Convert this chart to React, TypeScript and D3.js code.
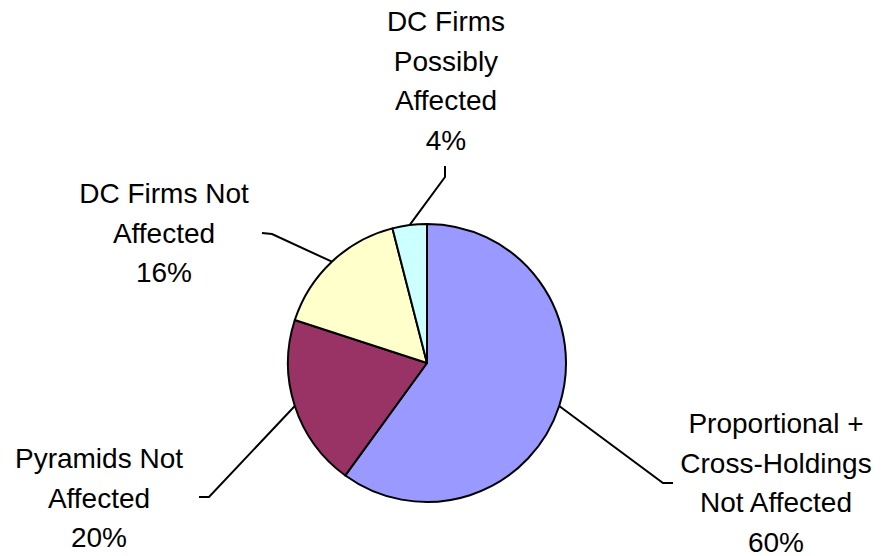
import React, { useEffect, useRef } from 'react';
import * as d3 from 'd3';

// slice order: clockwise from 12 o'clock
const categories = [
  'Proportional + Cross-Holdings Not Affected',
  'Pyramids Not Affected',
  'DC Firms Not Affected',
  'DC Firms Possibly Affected',
];
const shares = [60, 20, 16, 4];
const labelLines = [
  ['Proportional +', 'Cross-Holdings', 'Not Affected', '60%'],
  ['Pyramids Not', 'Affected', '20%'],
  ['DC Firms Not', 'Affected', '16%'],
  ['DC Firms', 'Possibly', 'Affected', '4%'],
];
const colors = ['#9999ff', '#993366', '#ffffcc', '#ccffff'];

// label placement (text centre + first baseline) and leader elbow / end
const labelLayout = [
  { x: 776, y: 433, elbow: [663, 483], end: [673, 483] },
  { x: 99, y: 468, elbow: [209, 497], end: [199, 497] },
  { x: 164, y: 203, elbow: [272, 234], end: [262, 233] },
  { x: 446, y: 31, elbow: [445, 177], end: [445, 166] },
];

const W = 881;
const H = 556;
const cx = 427;
const cy = 363;
const R = 139;
const lineStep = 39.5;

const App: React.FC = () => {
  const svgRef = useRef<SVGSVGElement | null>(null);

  useEffect(() => {
    const svg = d3.select(svgRef.current);
    svg.selectAll('*').remove();

    const data = categories.map((name, i) => ({ name, value: shares[i], i }));
    const pie = d3.pie<any>().value((d) => d.value).sort(null);
    const arcs = pie(data);
    const arc = d3.arc<any>().innerRadius(0).outerRadius(R);

    const g = svg.append('g').attr('transform', `translate(${cx},${cy})`);
    g.selectAll('path')
      .data(arcs)
      .join('path')
      .attr('d', arc)
      .attr('fill', (d: any) => colors[d.data.i])
      .attr('stroke', '#000')
      .attr('stroke-width', 2)
      .attr('stroke-linejoin', 'round');

    // leader lines
    arcs.forEach((a: any, i) => {
      const mid = (a.startAngle + a.endAngle) / 2;
      const sx = cx + R * Math.sin(mid);
      const sy = cy - R * Math.cos(mid);
      const lay = labelLayout[i];
      svg.append('polyline')
        .attr('points', `${sx},${sy} ${lay.elbow[0]},${lay.elbow[1]} ${lay.end[0]},${lay.end[1]}`)
        .attr('fill', 'none')
        .attr('stroke', '#000')
        .attr('stroke-width', 2);
    });

    // labels
    labelLines.forEach((lines, i) => {
      const lay = labelLayout[i];
      const t = svg.append('text')
        .attr('text-anchor', 'middle')
        .attr('font-family', '"Liberation Sans", Arial, sans-serif')
        .attr('font-size', 28)
        .attr('fill', '#000');
      lines.forEach((ln, k) => {
        t.append('tspan').attr('x', lay.x).attr('y', lay.y + k * lineStep).text(ln);
      });
    });
  }, []);

  return (
    <svg
      ref={svgRef}
      width={W}
      height={H}
      style={{ position: 'absolute', left: 0, top: 0, background: '#fff' }}
    />
  );
};

export default App;
